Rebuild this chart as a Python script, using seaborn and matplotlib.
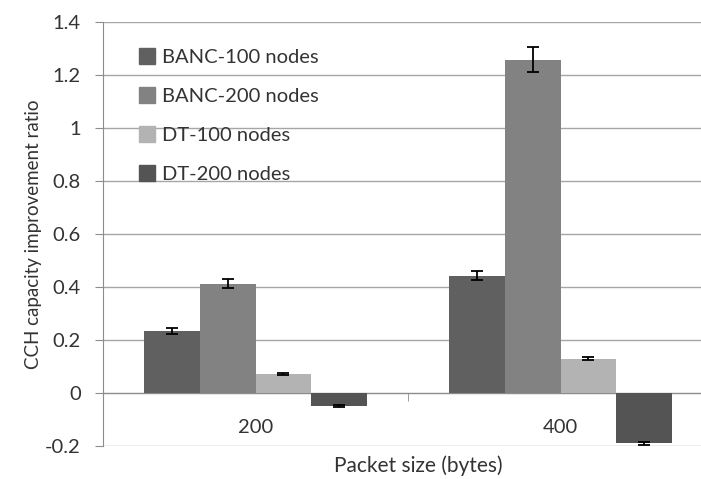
import numpy as np
import pandas as pd
import seaborn as sns
import matplotlib.pyplot as plt
from matplotlib.lines import Line2D

# values
packet_sizes = ["200", "400"]
series = ["BANC-100 nodes", "BANC-200 nodes", "DT-100 nodes", "DT-200 nodes"]
banc_100 = [0.235, 0.443]
banc_200 = [0.413, 1.258]
dt_100 = [0.072, 0.130]
dt_200 = [-0.048, -0.190]
err_banc_100 = [0.012, 0.018]
err_banc_200 = [0.017, 0.048]
err_dt_100 = [0.003, 0.005]
err_dt_200 = [0.004, 0.006]
colors = ["#606060", "#828282", "#b3b3b3", "#545454"]

rows = []
for name, vals, errs in zip(series,
                            [banc_100, banc_200, dt_100, dt_200],
                            [err_banc_100, err_banc_200, err_dt_100, err_dt_200]):
    for size, v, e in zip(packet_sizes, vals, errs):
        rows.append({"size": size, "series": name, "value": v, "err": e})
df = pd.DataFrame(rows)

sns.set_style("white")
plt.rcParams['font.family'] = ['Lato', 'DejaVu Sans']

fig = plt.figure(figsize=(7.01, 4.79), dpi=100)
ax = fig.add_axes([103 / 701, 33 / 479, 610 / 701, 424 / 479])

sns.barplot(data=df, x="size", y="value", hue="series", order=packet_sizes,
            hue_order=series, palette=colors, width=0.728, gap=0,
            errorbar=None, saturation=1, ax=ax, legend=False, zorder=3,
            linewidth=0)

# error bars, centred on the drawn bars
for i, name in enumerate(series):
    sub = df[df["series"] == name].set_index("size").loc[packet_sizes]
    bars = ax.patches[i * len(packet_sizes):(i + 1) * len(packet_sizes)]
    xs = [b.get_x() + b.get_width() / 2 for b in bars]
    ax.errorbar(xs, sub["value"], yerr=sub["err"], fmt="none", ecolor="black",
                elinewidth=1.3, capsize=4, capthick=1.3, zorder=4)

ax.set_ylim(-0.2, 1.4)
ax.set_xlim(-0.5, 1.5)
ax.set_yticks(np.arange(-0.2, 1.41, 0.2))
ax.set_yticklabels(["-0.2", "0", "0.2", "0.4", "0.6", "0.8", "1", "1.2", "1.4"])
ax.yaxis.grid(True, color="#a6a6a6", linewidth=1)
ax.set_axisbelow(True)

for s in ["top", "right"]:
    ax.spines[s].set_visible(False)
ax.spines["left"].set_color("#8c8c8c")
ax.spines["bottom"].set_color("#8c8c8c")
ax.spines["bottom"].set_position(("data", 0))

ax.tick_params(axis="y", length=6, color="#8c8c8c", labelsize=14.5, pad=10,
               left=True, labelcolor="#333333")
ax.set_xticks([0.5], minor=True)
ax.tick_params(axis="x", which="major", length=0, labelsize=14.5, pad=19,
               labelcolor="#333333")
ax.tick_params(axis="x", which="minor", length=6, color="#8c8c8c", bottom=True)

ax.set_xlabel("Packet size (bytes)", fontsize=15, color="#333333", va="center")
ax.xaxis.set_label_coords((418 - 103) / 610, -(466 - 446) / 424)
ax.set_ylabel("CCH capacity improvement ratio", fontsize=13.5, color="#333333", labelpad=2)

handles = [Line2D([0], [0], marker="s", linestyle="none", markersize=11,
                  markerfacecolor=c, markeredgecolor=c) for c in colors]
ax.legend(handles, series, loc="upper left", bbox_to_anchor=(0.03, 0.98),
          frameon=False, fontsize=14.5, handlelength=0.8, handletextpad=0.3,
          labelspacing=1.1, labelcolor="#333333")

fig.savefig("out.png", dpi=100)
